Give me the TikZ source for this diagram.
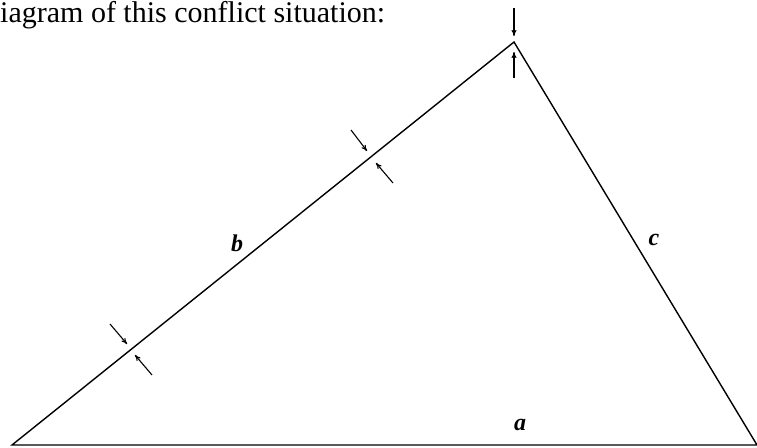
\documentclass[tikz,border=0pt]{standalone}
\usepackage{fontspec}
\setmainfont{Liberation Serif}
\usetikzlibrary{arrows.meta}

\begin{document}
\begin{tikzpicture}[
      x=1pt, y=-1pt,
      side/.style={line width=1.4pt, black, line join=miter},
      push/.style={-{To[length=6pt,width=5pt]}, line width=1.1pt, black},
      lbl/.style={font=\fontsize{24}{28}\selectfont\bfseries\itshape, inner sep=0pt},
      caption/.style={font=\fontsize{30}{34}\selectfont, inner sep=0pt, anchor=base west}
    ]
      \clip (0,0) rectangle (757,447);

      % Heading at the top of the page
      \node[caption] (head) at (0,22) {iagram of this conflict situation:};

      % Corners of the triangle
      \coordinate (left)  at (12,445);
      \coordinate (top)   at (514,42);
      \coordinate (right) at (757,445);
      \draw[side] (left) -- (top) -- (right) -- cycle;

      % Side labels
      \node[lbl] (b) at (237,243) {b};
      \node[lbl] (c) at (654,240) {c};
      \node[lbl] (a) at (520,425) {a};

      % Pressure arrows at the apex
      \coordinate (t1) at (514,8);   \coordinate (t2) at (514,36);
      \coordinate (t3) at (514,78);  \coordinate (t4) at (514,52);
      \draw[push] (t1) -- (t2);
      \draw[push] (t3) -- (t4);

      % Pressure arrows on side b
      \coordinate (u1) at (351,130); \coordinate (u2) at (367,151);
      \coordinate (u3) at (393,183); \coordinate (u4) at (376,163);
      \draw[push] (u1) -- (u2);
      \draw[push] (u3) -- (u4);

      \coordinate (l1) at (110,324); \coordinate (l2) at (127,344);
      \coordinate (l3) at (152,375); \coordinate (l4) at (135,355);
      \draw[push] (l1) -- (l2);
      \draw[push] (l3) -- (l4);
    \end{tikzpicture}
\end{document}
